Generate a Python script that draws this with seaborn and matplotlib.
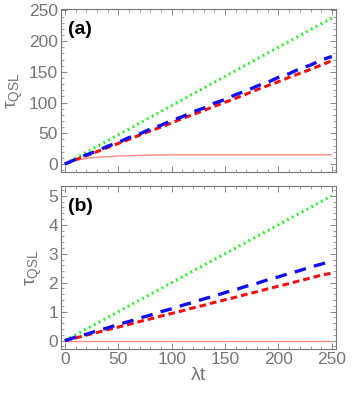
import numpy as np
import pandas as pd
import matplotlib
matplotlib.use('Agg')
import matplotlib.pyplot as plt
import seaborn as sns
from matplotlib.ticker import MultipleLocator

# 数据 (读自参考图)
lam_t = [0, 10, 20, 30, 40, 50, 60, 70, 80, 90, 100, 110, 120, 130, 140,
         150, 160, 170, 180, 190, 200, 210, 220, 230, 240, 250]

# (a)
a_green = [0, 9.5, 19, 28.5, 38, 47.5, 57, 66.5, 76, 85.5, 95, 104.5, 114, 123.5,
           133, 142.5, 152, 161.5, 171, 180.5, 190, 199.5, 209, 218.5, 228, 237.5]
a_blue = [0, 7.5, 15, 21, 29, 35, 43, 49, 57, 63, 71, 77, 85, 91,
          99, 105, 113, 119, 127, 133, 141, 147, 155, 161, 169, 175]
a_red = [0, 7, 13.5, 20, 27, 33.5, 40, 47, 54, 60, 67, 74, 80.5, 87,
         94, 100.5, 107, 114, 121, 127.5, 134, 141, 147.5, 154, 161, 168]
a_pink = [0, 6, 9, 11, 12, 13, 13.5, 14, 14.5, 14.7, 15, 15, 15, 15,
          15, 15, 15, 15, 15, 15, 15, 15, 15, 15, 15, 15]

# (b)
b_green = [0, 0.2, 0.4, 0.6, 0.8, 1.0, 1.2, 1.4, 1.6, 1.8, 2.0, 2.2, 2.4, 2.6,
           2.8, 3.0, 3.2, 3.4, 3.6, 3.8, 4.0, 4.2, 4.4, 4.6, 4.8, 5.0]
b_blue = [0, 0.12, 0.22, 0.34, 0.44, 0.56, 0.66, 0.78, 0.88, 1.0, 1.1, 1.22, 1.32, 1.44,
          1.54, 1.66, 1.76, 1.88, 1.98, 2.1, 2.2, 2.32, 2.42, 2.54, 2.64, 2.76]
b_red = [0, 0.09, 0.19, 0.28, 0.38, 0.47, 0.56, 0.66, 0.75, 0.85, 0.94, 1.03, 1.13, 1.22,
         1.32, 1.41, 1.5, 1.6, 1.69, 1.79, 1.88, 1.97, 2.07, 2.16, 2.26, 2.33]
b_pink = [0] * 26

gray = '#767676'

sns.set_style('ticks')
plt.rcParams['font.family'] = ['Liberation Sans', 'DejaVu Sans']
plt.rcParams['mathtext.default'] = 'regular'

fig, axes = plt.subplots(2, 1, figsize=(3.52, 3.97), dpi=100)
fig.subplots_adjust(left=0.173, right=0.955, top=0.977, bottom=0.12, hspace=0.085)


def draw_panel(ax, green, blue, red, pink):
    df = pd.DataFrame({'x': lam_t, 'green': green, 'blue': blue, 'red': red, 'pink': pink})
    sns.lineplot(data=df, x='x', y='pink', ax=ax, color='#ff8a8a', lw=1.0)
    sns.lineplot(data=df, x='x', y='green', ax=ax, color='#22ee22', lw=2.2,
                 linestyle=(0, (0.6, 1.2)))
    sns.lineplot(data=df, x='x', y='red', ax=ax, color='#ee1111', lw=2.2,
                 linestyle=(0, (2.2, 1.3)))
    sns.lineplot(data=df, x='x', y='blue', ax=ax, color='#1010ee', lw=2.4,
                 linestyle=(0, (3.5, 2.5)))
    ax.set_xlim(-3.7, 254)
    ax.xaxis.set_major_locator(MultipleLocator(50))
    ax.xaxis.set_minor_locator(MultipleLocator(10))
    ax.tick_params(which='both', direction='in', top=True, right=True,
                   colors=gray, labelcolor=gray, labelsize=12.5, pad=2)
    ax.tick_params(which='major', length=4, width=0.6)
    ax.tick_params(which='minor', length=2, width=0.5)
    for s in ax.spines.values():
        s.set_color(gray)
        s.set_linewidth(0.8)
    ax.set_ylabel(r'$\tau_{QSL}$', color=gray, fontsize=14, labelpad=3)


ax = axes[0]
draw_panel(ax, a_green, a_blue, a_red, a_pink)
ax.set_ylim(-13.5, 252)
ax.yaxis.set_major_locator(MultipleLocator(50))
ax.yaxis.set_minor_locator(MultipleLocator(10))
ax.set_xticklabels([])
ax.set_xlabel('')
ax.text(0.025, 0.93, '(a)', transform=ax.transAxes, fontsize=14,
        fontweight='bold', va='top', ha='left', color='black')

ax = axes[1]
draw_panel(ax, b_green, b_blue, b_red, b_pink)
ax.set_ylim(-0.3, 5.33)
ax.yaxis.set_major_locator(MultipleLocator(1))
ax.yaxis.set_minor_locator(MultipleLocator(0.2))
ax.set_xlabel(r'$\lambda$t', color=gray, fontsize=14, labelpad=0)
ax.text(0.025, 0.93, '(b)', transform=ax.transAxes, fontsize=14,
        fontweight='bold', va='top', ha='left', color='black')

fig.savefig('out.png', dpi=100)
